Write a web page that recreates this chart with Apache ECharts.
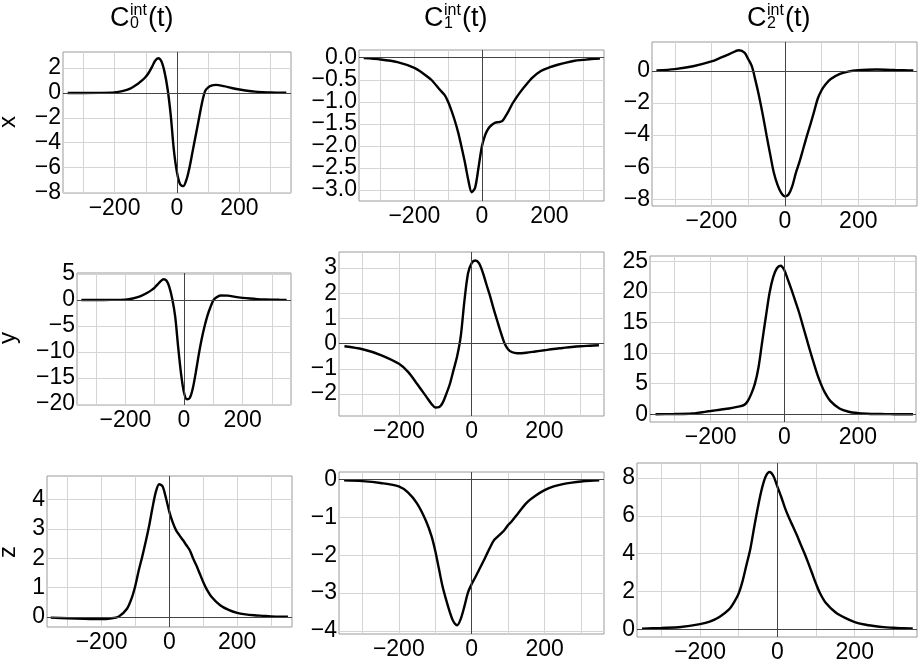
<!DOCTYPE html>
<html>
<head>
<meta charset="utf-8">
<script src="https://cdn.jsdelivr.net/npm/echarts@6/dist/echarts.min.js"></script>
<style>
html, body { margin: 0; padding: 0; background: #fff; }
#chart { width: 921px; height: 665px; }
</style>
</head>
<body>
<div id="chart"></div>
<script>
// shared time samples
const tVals = [-350, -300, -250, -200, -175, -150, -125, -110, -100, -90, -80, -70, -60, -50, -40, -30, -20, -10,
  0, 10, 20, 30, 40, 50, 60, 70, 80, 90, 100, 110, 125, 150, 175, 200, 225, 250, 275, 300, 325, 350];

// row x
const xC0 = [0, 0, 0.01, 0.05, 0.15, 0.35, 0.75, 1.05, 1.3, 1.65, 2.1, 2.6, 2.8, 2.55, 1.7, 0.3, -1.8, -4.6,
  -6.4, -7.35, -7.5, -7.0, -6.0, -4.7, -3.4, -2.1, -0.8, 0.15, 0.45, 0.6, 0.65, 0.55, 0.4, 0.28, 0.18, 0.11, 0.07, 0.04, 0.03, 0.02];
const xC1 = [-0.01, -0.04, -0.1, -0.23, -0.35, -0.5, -0.72, -0.85, -1.0, -1.2, -1.43, -1.7, -2.03, -2.38, -2.78, -3.05, -2.95, -2.5,
  -2.02, -1.75, -1.6, -1.52, -1.47, -1.46, -1.44, -1.33, -1.2, -1.05, -0.93, -0.82, -0.67, -0.45, -0.3, -0.22, -0.16, -0.11, -0.07, -0.05, -0.03, -0.02];
const xC2 = [0.04, 0.12, 0.3, 0.6, 0.83, 1.07, 1.3, 1.15, 0.75, 0.3, -0.6, -1.6, -2.75, -4.0, -5.2, -6.35, -7.1, -7.6,
  -7.82, -7.7, -7.2, -6.35, -5.65, -4.85, -4.05, -3.3, -2.5, -1.7, -1.2, -0.85, -0.5, -0.18, -0.02, 0.05, 0.08, 0.09, 0.08, 0.06, 0.05, 0.03];

// row y
const yC0 = [0, 0.01, 0.02, 0.08, 0.3, 0.7, 1.4, 1.95, 2.4, 3.0, 3.6, 4.0, 3.75, 2.5, 0.2, -3.2, -9.0, -14.2,
  -17.8, -19.1, -18.8, -17.0, -14.0, -10.6, -7.6, -5.1, -3.0, -1.4, -0.05, 0.5, 0.88, 0.85, 0.6, 0.42, 0.28, 0.17, 0.1, 0.06, 0.04, 0.03];
const yC1 = [-0.1, -0.22, -0.45, -0.8, -1.12, -1.6, -2.1, -2.4, -2.53, -2.52, -2.35, -2.0, -1.6, -1.05, -0.5, 0.3, 1.7, 2.8,
  3.2, 3.3, 3.2, 2.85, 2.38, 1.92, 1.4, 0.92, 0.45, 0.03, -0.22, -0.33, -0.38, -0.36, -0.31, -0.26, -0.21, -0.17, -0.13, -0.1, -0.08, -0.06];
const yC2 = [0.01, 0.04, 0.12, 0.54, 0.75, 0.95, 1.25, 1.5, 2.1, 3.3, 4.97, 7.7, 11.9, 16.0, 19.9, 22.5, 23.9, 24.3,
  23.6, 22.0, 20.3, 18.5, 16.7, 14.6, 12.5, 10.4, 8.4, 6.5, 4.9, 3.6, 2.2, 0.95, 0.42, 0.2, 0.1, 0.05, 0.03, 0.02, 0.01, 0.01];

// row z
const zC0 = [-0.02, -0.04, -0.06, -0.07, -0.05, 0.01, 0.28, 0.68, 1.08, 1.6, 2.05, 2.55, 3.08, 3.7, 4.25, 4.52, 4.45, 4.05,
  3.58, 3.22, 2.95, 2.78, 2.62, 2.45, 2.28, 2.0, 1.75, 1.47, 1.19, 0.95, 0.68, 0.4, 0.24, 0.14, 0.09, 0.06, 0.04, 0.02, 0.01, 0.01];
const zC1 = [-0.02, -0.04, -0.09, -0.18, -0.34, -0.63, -1.1, -1.5, -1.88, -2.35, -2.82, -3.18, -3.5, -3.75, -3.85, -3.68, -3.35, -2.98,
  -2.76, -2.58, -2.39, -2.2, -2.0, -1.8, -1.62, -1.52, -1.43, -1.33, -1.2, -1.1, -0.92, -0.62, -0.43, -0.28, -0.18, -0.12, -0.08, -0.05, -0.03, -0.02];
const zC2 = [0.03, 0.07, 0.12, 0.27, 0.4, 0.65, 1.05, 1.5, 1.9, 2.55, 3.4, 4.25, 5.4, 6.5, 7.45, 8.1, 8.32, 8.1,
  7.55, 7.0, 6.4, 5.9, 5.45, 5.0, 4.5, 4.02, 3.5, 2.95, 2.4, 1.92, 1.4, 0.9, 0.6, 0.38, 0.25, 0.17, 0.11, 0.08, 0.05, 0.04];

// tick labels
const xLabels = [-200, 0, 200];
const xGridVals = [-300, -200, -100, 0, 100, 200, 300];
const yTicksXC0 = [-8, -6, -4, -2, 0, 2];
const yTicksXC1 = [-3.0, -2.5, -2.0, -1.5, -1.0, -0.5, 0.0];
const yTicksXC2 = [-8, -6, -4, -2, 0];
const yTicksYC0 = [-20, -15, -10, -5, 0, 5];
const yTicksYC1 = [-2, -1, 0, 1, 2, 3];
const yTicksYC2 = [0, 5, 10, 15, 20, 25];
const yTicksZC0 = [0, 1, 2, 3, 4];
const yTicksZC1 = [-4, -3, -2, -1, 0];
const yTicksZC2 = [0, 2, 4, 6, 8];

const colNames = ['0', '1', '2'];
const rowNames = ['x', 'y', 'z'];

// panel layout: frame rect [left, top, width, height], axis ranges
const panels = [
  { vals: xC0, ticks: yTicksXC0, dec: 0, rect: [63, 52, 228, 141], xr: [-365, 365], yr: [-8.05, 3.3] },
  { vals: xC1, ticks: yTicksXC1, dec: 1, rect: [359, 50, 245, 151], xr: [-364, 362], yr: [-3.25, 0.175] },
  { vals: xC2, ticks: yTicksXC2, dec: 0, rect: [652, 42, 265, 164], xr: [-362, 360], yr: [-8.42, 1.81] },
  { vals: yC0, ticks: yTicksYC0, dec: 0, rect: [77, 273, 214, 132], xr: [-365, 365], yr: [-20.2, 5.2] },
  { vals: yC1, ticks: yTicksYC1, dec: 0, rect: [339, 252, 265, 164], xr: [-365, 364], yr: [-2.87, 3.64] },
  { vals: yC2, ticks: yTicksYC2, dec: 0, rect: [650, 256, 266, 166], xr: [-365, 358], yr: [-1.26, 25.9] },
  { vals: zC0, ticks: yTicksZC0, dec: 0, rect: [47, 476, 245, 151], xr: [-361, 362], yr: [-0.34, 4.8] },
  { vals: zC1, ticks: yTicksZC1, dec: 0, rect: [339, 472, 265, 162], xr: [-364, 363], yr: [-4.08, 0.2] },
  { vals: zC2, ticks: yTicksZC2, dec: 0, rect: [637, 463, 280, 174], xr: [-363, 361], yr: [-0.41, 8.8] }
];

const FONT = '"Liberation Sans", Arial, sans-serif';
const fmt = (v, dec) => (v < 0 ? '\u2212' : '') + Math.abs(v).toFixed(dec);

const grids = [], xAxes = [], yAxes = [], series = [];
panels.forEach((p, i) => {
  grids.push({
    left: p.rect[0], top: p.rect[1], width: p.rect[2], height: p.rect[3],
    show: true, borderColor: '#9a9a9a', borderWidth: 1, backgroundColor: 'transparent'
  });
  xAxes.push({
    type: 'value', gridIndex: i, min: p.xr[0], max: p.xr[1],
    axisLine: { show: false },
    axisTick: { show: false, customValues: xGridVals },
    axisLabel: {
      customValues: xLabels, margin: 4, color: '#000', fontSize: 23, fontFamily: FONT,
      formatter: v => fmt(v, 0)
    },
    splitLine: { show: true, lineStyle: { color: '#d4d4d4', width: 1 } }
  });
  // two left y axes per panel: alternate labels so none get hidden as overlapping
  const evenTicks = p.ticks.filter((v, k) => k % 2 === 0);
  const oddTicks = p.ticks.filter((v, k) => k % 2 === 1);
  [evenTicks, oddTicks].forEach((labs, j) => {
    yAxes.push({
      type: 'value', gridIndex: i, min: p.yr[0], max: p.yr[1], position: 'left',
      axisLine: { show: false },
      axisTick: { show: false, customValues: j === 0 ? p.ticks : labs },
      axisLabel: {
        customValues: labs, margin: 2, color: '#000', fontSize: 23, fontFamily: FONT,
        formatter: v => fmt(v, p.dec)
      },
      splitLine: { show: j === 0, lineStyle: { color: '#d4d4d4', width: 1 } }
    });
  });
  series.push({
    type: 'line', xAxisIndex: i, yAxisIndex: 2 * i,
    data: tVals.map((t, k) => [t, p.vals[k]]),
    showSymbol: false, smooth: 0.3,
    lineStyle: { color: '#000', width: 2.4 },
    markLine: {
      silent: true, symbol: 'none', label: { show: false },
      lineStyle: { color: '#444', width: 1, type: 'solid' },
      data: [{ xAxis: 0 }, { yAxis: 0 }]
    }
  });
});

// column titles C_n^int(t) and row labels
const titleLeft = [110, 424, 747];
const graphic = [];
titleLeft.forEach((x0, c) => {
  graphic.push(
    { type: 'text', left: x0, top: 5, style: { text: 'C', font: '27px ' + FONT, fill: '#000' } },
    { type: 'text', left: x0 + 20, top: 3, style: { text: 'int', font: '16px ' + FONT, fill: '#000' } },
    { type: 'text', left: x0 + 20, top: 16, style: { text: colNames[c], font: '16px ' + FONT, fill: '#000' } },
    { type: 'text', left: x0 + 38, top: 5, style: { text: '(t)', font: '27px ' + FONT, fill: '#000' } }
  );
});
const rowY = [122, 338, 552];
rowNames.forEach((r, k) => {
  graphic.push({
    type: 'text', x: 8, y: rowY[k], rotation: Math.PI / 2,
    style: { text: r, font: '24px ' + FONT, fill: '#000', align: 'center', verticalAlign: 'middle' }
  });
});

const chart = echarts.init(document.getElementById('chart'));
chart.setOption({
  animation: false,
  backgroundColor: '#fff',
  grid: grids,
  xAxis: xAxes,
  yAxis: yAxes,
  series: series,
  graphic: graphic
});
window.addEventListener('resize', () => chart.resize());
</script>
</body>
</html>
